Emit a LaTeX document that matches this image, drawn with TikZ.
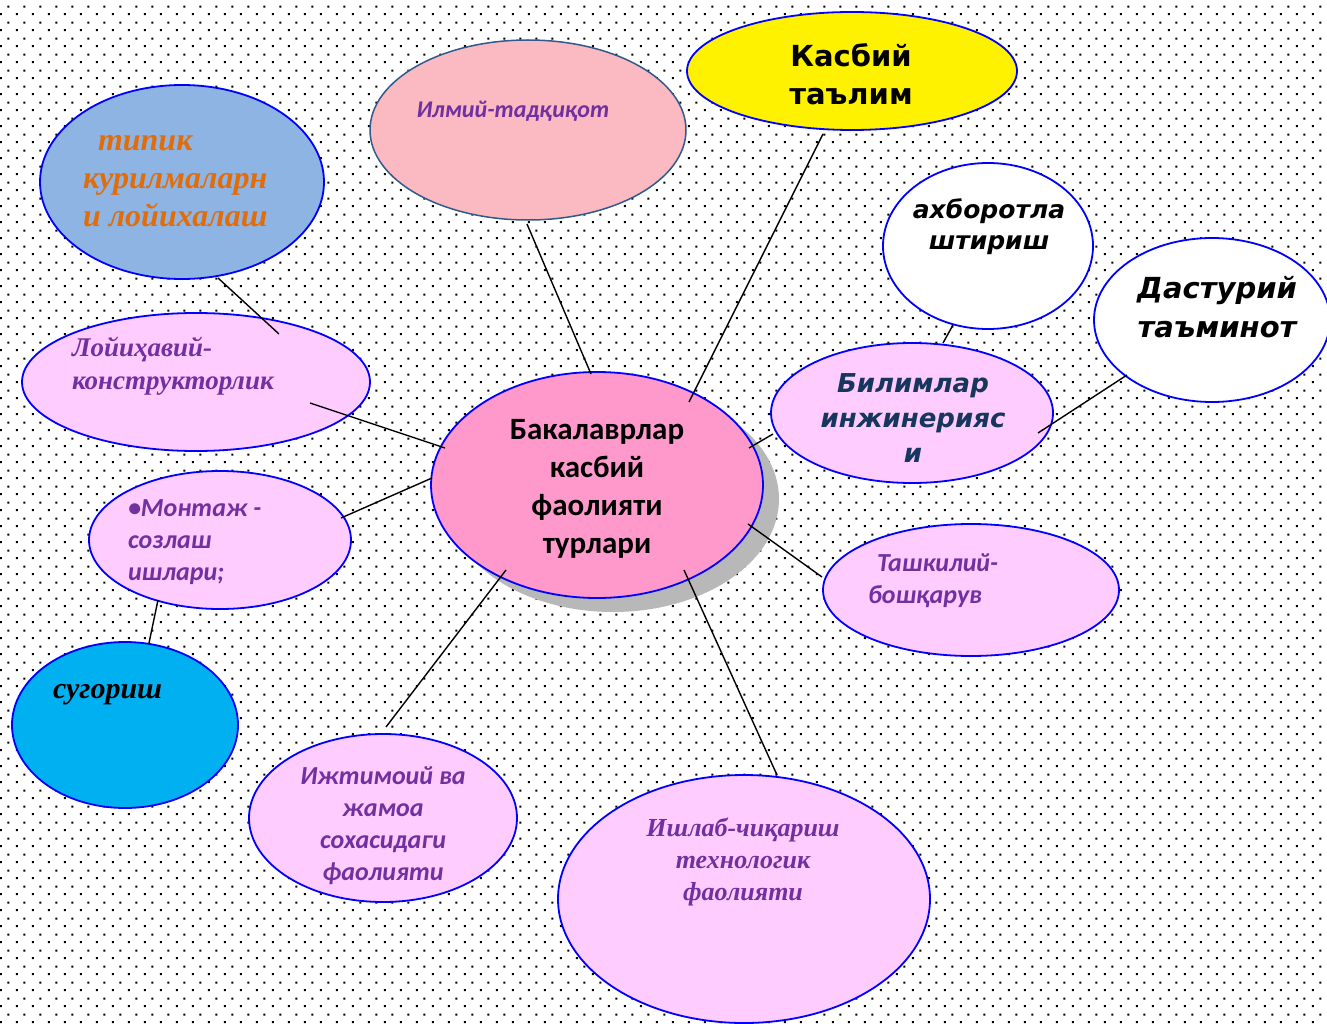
\documentclass[tikz,border=0pt]{standalone}
\usepackage{fontspec}
\setmainfont{Liberation Serif}
\newfontfamily\carl{Carlito}
\newfontfamily\djv{DejaVu Sans}
\usetikzlibrary{shapes.geometric,patterns}
\newcommand\setfs[2]{\fontsize{#1}{#2}\selectfont}
\pgfdeclarepatternformonly{bgdots}{\pgfqpoint{0pt}{0pt}}{\pgfqpoint{16pt}{16pt}}{\pgfqpoint{16pt}{16pt}}{%
\pgfpathrectangle{\pgfqpoint{1pt}{1pt}}{\pgfqpoint{2pt}{2pt}}%
\pgfpathrectangle{\pgfqpoint{9pt}{9pt}}{\pgfqpoint{2pt}{2pt}}%
\pgfusepath{fill}}
\definecolor{ovalblue}{HTML}{0000FF}
\definecolor{lpink}{HTML}{FFCCFF}
\definecolor{cpink}{HTML}{FF99CC}
\definecolor{tipfill}{HTML}{8DB4E2}
\definecolor{ilmfill}{HTML}{FBB9C1}
\definecolor{ilmdraw}{HTML}{2F5B8C}
\definecolor{cyanfill}{HTML}{00B0F0}
\definecolor{purp}{HTML}{7030A0}
\definecolor{orng}{HTML}{E36C0A}
\definecolor{navy}{HTML}{17365D}
\definecolor{shad}{HTML}{B8B8B8}
\begin{document}
\begin{tikzpicture}[x=1pt,y=-1pt,
  oval/.style={ellipse, inner sep=0pt, draw=ovalblue, line width=1.8pt},
  conn/.style={line width=1.4pt, black},
  txt/.style={inner sep=0pt, outer sep=0pt}]
\useasboundingbox (0,0) rectangle (1327,1024);
\fill[white] (0,0) rectangle (1327,1024);
\fill[pattern=bgdots] (0,0) rectangle (1327,1024);

% ellipses
\node[oval, fill=tipfill, minimum width=284pt, minimum height=194pt] (tipik) at (182,182) {};
\node[oval, fill=ilmfill, draw=ilmdraw, line width=1.5pt, minimum width=316pt, minimum height=180pt] (ilmiy) at (528,130) {};
\node[oval, fill=yellow, minimum width=330pt, minimum height=118pt] (kasbiy) at (852,71) {};
\node[oval, fill=white, minimum width=210pt, minimum height=166pt] (axbor) at (988,246) {};
\node[oval, fill=white, minimum width=236pt, minimum height=164pt] (dastur) at (1212,320) {};
\node[oval, fill=lpink, minimum width=282pt, minimum height=140pt] (bilim) at (912,413) {};
\node[ellipse, inner sep=0pt, fill=shad, minimum width=332pt, minimum height=226pt] (shadow) at (613,499) {};
\node[oval, fill=cpink, minimum width=332pt, minimum height=226pt] (central) at (597,485) {};
\node[oval, fill=lpink, minimum width=348pt, minimum height=138pt] (loyih) at (196,382) {};
\node[oval, fill=lpink, minimum width=262pt, minimum height=138pt] (montaj) at (220,540) {};
\node[oval, fill=cyanfill, minimum width=226pt, minimum height=166pt] (sugor) at (125,725) {};
\node[oval, fill=lpink, minimum width=268pt, minimum height=168pt] (ijtim) at (383,818) {};
\node[oval, fill=lpink, minimum width=372pt, minimum height=248pt] (ishlab) at (744,899) {};
\node[oval, fill=lpink, minimum width=296pt, minimum height=132pt] (tashk) at (971,590) {};

% connector end points
\coordinate (a1) at (218,278); \coordinate (b1) at (279,334);
\coordinate (a2) at (527,224); \coordinate (b2) at (591,374);
\coordinate (a3) at (823,134); \coordinate (b3) at (689,402);
\coordinate (a4) at (310,403); \coordinate (b4) at (445,448);
\coordinate (a5) at (341,518); \coordinate (b5) at (432,478);
\coordinate (a6) at (158,600); \coordinate (b6) at (149,643);
\coordinate (a7) at (386,727); \coordinate (b7) at (506,570);
\coordinate (a8) at (777,775); \coordinate (b8) at (684,570);
\coordinate (a9) at (822,577); \coordinate (b9) at (748,524);
\coordinate (a10) at (773,434); \coordinate (b10) at (749,448);
\coordinate (a11) at (953,325); \coordinate (b11) at (943,343);
\coordinate (a12) at (1127,375); \coordinate (b12) at (1038,433);
\foreach \i in {1,...,12} { \draw[conn] (a\i) -- (b\i); }

% texts
\node[txt, anchor=west, align=left, text=orng, font=\setfs{32}{38}\bfseries\itshape] (t-tipik) at (83,181)
  {\hspace*{15pt}типик\\курилмаларн\\и лойихалаш};
\node[txt, text=purp, font=\carl\setfs{24}{30}\bfseries\itshape] (t-ilmiy) at (513,111) {Илмий-тадқиқот};
\node[txt, align=center, font=\djv\setfs{29}{38}\bfseries] (t-kasbiy) at (851,74) {Касбий\\таълим};
\node[txt, align=center, font=\djv\setfs{25}{31}\bfseries\itshape] (t-axbor) at (989,227) {ахборотла\\штириш};
\node[txt, align=center, font=\djv\setfs{29}{39}\bfseries\itshape] (t-dastur) at (1217,307) {Дастурий\\таъминот};
\node[txt, align=center, text=navy, font=\djv\setfs{26}{35}\bfseries\itshape] (t-bilim) at (913,418) {Билимлар\\инжинерияс\\и};
\node[txt, align=center, font=\carl\setfs{31}{38}\bfseries] (t-central) at (597,489) {Бакалаврлар\\касбий\\фаолияти\\турлари};
\node[txt, anchor=west, align=left, text=purp, font=\setfs{27}{33}\bfseries\itshape] (t-loyih) at (72,366) {Лойиҳавий-\\конструкторлик};
\node[txt, anchor=west, align=left, text=purp, font=\carl\setfs{26}{32}\bfseries\itshape] (t-montaj) at (128,542) {•Монтаж -\\созлаш\\ишлари;};
\node[txt, anchor=west, font=\setfs{30}{36}\bfseries\itshape] (t-sugor) at (53,695) {сугориш};
\node[txt, align=center, text=purp, font=\carl\setfs{26}{32}\bfseries\itshape] (t-ijtim) at (383,826) {Ижтимоий ва\\жамоа\\сохасидаги\\фаолияти};
\node[txt, align=center, text=purp, font=\setfs{26}{32}\bfseries\itshape] (t-ishlab) at (743,862) {Ишлаб-чиқариш\\технологик\\фаолияти};
\node[txt, anchor=west, align=left, text=purp, font=\carl\setfs{26}{32}\bfseries\itshape] (t-tashk) at (868,581) {\hspace*{9pt}Ташкилий-\\бошқарув};
\end{tikzpicture}
\end{document}
